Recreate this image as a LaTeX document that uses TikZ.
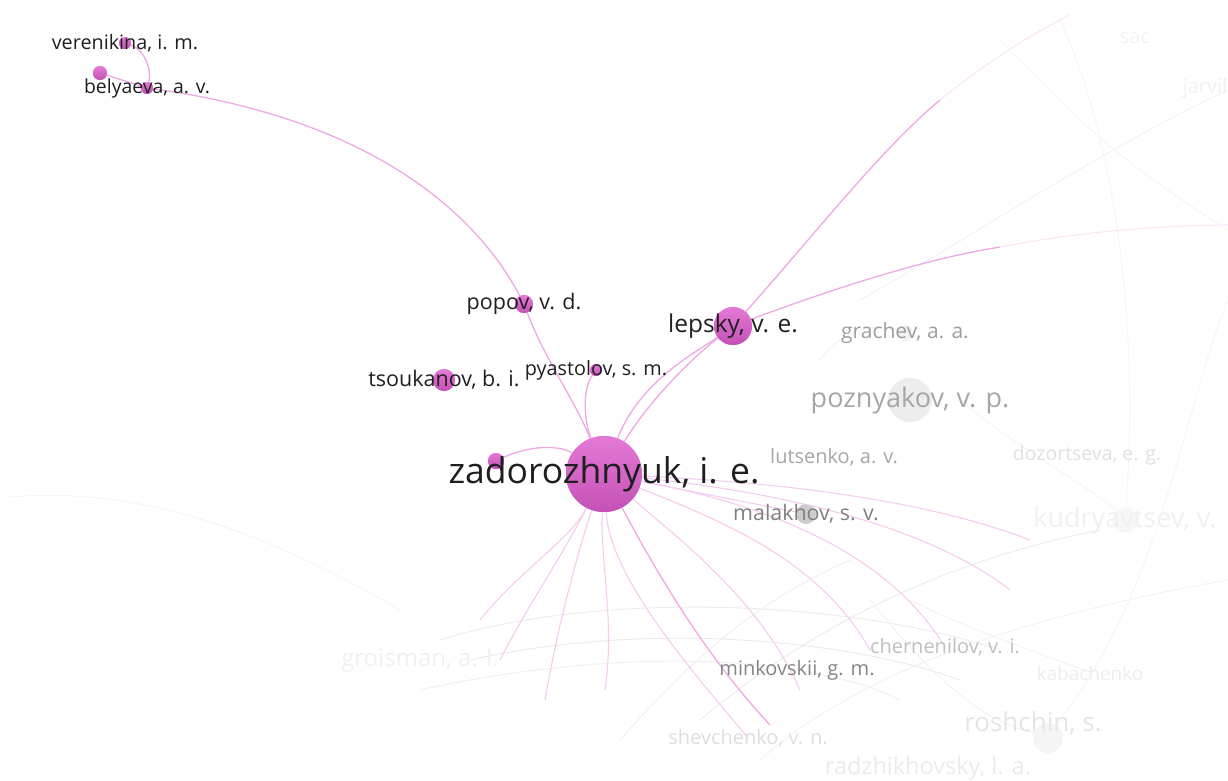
\documentclass[tikz,border=0pt]{standalone}
\usepackage{fontspec}
\setmainfont{Open Sans}
\usetikzlibrary{calc}
\definecolor{vpink}{RGB}{222,92,206}
\definecolor{linkpink}{RGB}{238,168,228}
\newcommand{\fsz}[1]{\fontsize{#1}{#1}\selectfont}

\begin{document}
\begin{tikzpicture}[x=1pt,y=-1pt,
  author/.style={circle, inner sep=0pt, draw=none, top color=vpink!82!white, bottom color=vpink!88!black},
  ghost/.style={circle, inner sep=0pt, fill=black!#1},
  lbl/.style={inner sep=0pt, text=black!88},
  faintlbl/.style={inner sep=0pt, text=black!#1},
  link/.style={draw=linkpink, line width=1.3pt},
  softlink/.style={draw=linkpink!60, line width=1.1pt},
  greylink/.style={draw=black!#1, line width=1pt}
]
\useasboundingbox (0,0) rectangle (1228,781);

% faint background network
\draw[greylink=4] (10,497) .. controls (150,485) and (280,540) .. (400,610);
\draw[greylink=7] (440,640) .. controls (600,590) and (850,600) .. (1000,650);
\draw[greylink=8] (470,660) .. controls (650,620) and (850,640) .. (960,680);
\draw[greylink=6] (420,690) .. controls (600,650) and (800,650) .. (900,700);
\draw[greylink=7] (700,720) .. controls (820,620) and (950,560) .. (1100,530);
\draw[greylink=6] (620,740) .. controls (700,650) and (760,600) .. (850,560);
\draw[greylink=5] (760,760) .. controls (850,680) and (1000,620) .. (1228,580);
\draw[greylink=5] (870,600) .. controls (950,700) and (1000,730) .. (1048,735);
\draw[greylink=4] (960,400) .. controls (1020,450) and (1080,480) .. (1125,517);
\draw[greylink=5] (860,300) .. controls (950,250) and (1100,150) .. (1228,90);
\draw[greylink=4] (1060,20) .. controls (1120,150) and (1140,350) .. (1125,517);
\draw[greylink=4] (1228,300) .. controls (1180,420) and (1160,600) .. (1048,735);
\draw[greylink=4] (1000,40) .. controls (1060,100) and (1100,150) .. (1228,230);
\draw[greylink=5] (820,360) .. controls (840,330) and (880,320) .. (905,333);
\draw[greylink=5] (1090,672) .. controls (1000,640) and (950,620) .. (910,600);

% faint authors
\node[ghost=7, minimum size=44pt] (poznyakov) at (910,400) {};
\node[ghost=5, minimum size=16pt] (grachev) at (905,333) {};
\node[ghost=20, minimum size=20pt] (malakhov) at (806,514) {};
\node[ghost=4, minimum size=30pt] (roshchin) at (1048,738) {};
\node[ghost=3, minimum size=26pt] (kudryav) at (1125,520) {};
\coordinate (minkovskii) at (770,725);
\coordinate (chernenilov) at (945,647);
\coordinate (shevchenko) at (748,738);

% pink links
\coordinate (midne) at (940,100);
\coordinate (farne) at (1070,15);
\coordinate (mideast) at (1000,247);
\coordinate (fareast) at (1228,225);
\node[author, minimum size=76pt] (zad) at (604,474) {};
\node[author, minimum size=38pt] (lepsky) at (733,326) {};
\node[author, minimum size=18pt] (popov) at (524,304) {};
\node[author, minimum size=22pt] (tsoukanov) at (444,380) {};
\node[author, minimum size=12pt] (pyastolov) at (596,370) {};
\node[author, minimum size=16pt] (nodea) at (496,461) {};
\node[author, minimum size=12pt] (verenikina) at (125,43) {};
\node[author, minimum size=12pt] (belyaeva) at (147,88) {};
\node[author, minimum size=14pt] (nodeb) at (100,73) {};

\draw[link] (verenikina) .. controls (145,50) and (152,70) .. (belyaeva);
\draw[link] (nodeb) -- (belyaeva);
\draw[link] (belyaeva) .. controls (380,120) and (480,220) .. (popov);
\draw[link] (popov) .. controls (545,360) and (575,400) .. (zad);
\draw[link] (pyastolov) .. controls (582,390) and (584,420) .. (zad);
\draw[link] (lepsky) .. controls (690,360) and (650,400) .. (zad);
\draw[link] (lepsky) .. controls (700,350) and (640,380) .. (zad);
\draw[link] (lepsky) .. controls (810,240) and (880,150) .. (midne);
\draw[softlink, draw=linkpink!30] (midne) .. controls (990,60) and (1030,35) .. (farne);
\draw[link] (lepsky) .. controls (830,290) and (920,260) .. (mideast);
\draw[softlink, draw=linkpink!30] (mideast) .. controls (1080,232) and (1150,226) .. (fareast);
\draw[link] (nodea) .. controls (530,445) and (560,445) .. (zad);

\draw[softlink] (zad) .. controls (560,560) and (525,610) .. (500,660);
\draw[softlink] (zad) .. controls (575,560) and (555,640) .. (545,700);
\draw[softlink] (zad) .. controls (600,560) and (615,620) .. (605,690);
\draw[link] (zad) .. controls (650,560) and (700,650) .. (minkovskii);
\draw[softlink] (zad) .. controls (680,540) and (760,600) .. (800,690);
\draw[softlink] (zad) .. controls (720,520) and (820,560) .. (870,650);
\draw[softlink] (zad) .. controls (740,500) and (880,540) .. (chernenilov);
\draw[softlink] (zad) .. controls (760,490) and (920,520) .. (1010,590);
\draw[softlink] (zad) .. controls (720,480) and (900,490) .. (1030,540);
\draw[softlink] (zad) -- (malakhov);
\draw[softlink] (zad) .. controls (610,580) and (700,680) .. (shevchenko);
\draw[softlink] (zad) .. controls (570,540) and (520,570) .. (480,620);

% redraw nodes on top
\node[author, minimum size=76pt] at (zad) {};
\node[author, minimum size=38pt] at (lepsky) {};
\node[author, minimum size=18pt] at (popov) {};
\node[author, minimum size=22pt] at (tsoukanov) {};
\node[author, minimum size=12pt] at (pyastolov) {};
\node[author, minimum size=16pt] at (nodea) {};
\node[author, minimum size=12pt] at (verenikina) {};
\node[author, minimum size=12pt] at (belyaeva) {};
\node[author, minimum size=14pt] at (nodeb) {};

% labels
\node[lbl, font=\fsz{35.5}] at (zad) {zadorozhnyuk, i. e.};
\node[lbl, font=\fsz{24.5}] at (lepsky) {lepsky, v. e.};
\node[lbl, font=\fsz{21.5}] at (popov) {popov, v. d.};
\node[lbl, font=\fsz{21.5}] at (tsoukanov) {tsoukanov, b. i.};
\node[lbl, font=\fsz{19.8}] at (pyastolov) {pyastolov, s. m.};
\node[lbl, font=\fsz{19.8}] at (verenikina) {verenikina, i. m.};
\node[lbl, font=\fsz{19.4}] at (belyaeva) {belyaeva, a. v.};

\node[faintlbl=38, font=\fsz{21}] at (grachev) {grachev, a. a.};
\node[faintlbl=35, font=\fsz{27}] at (poznyakov) {poznyakov, v. p.};
\node[faintlbl=35, font=\fsz{20}] at (834,457) {lutsenko, a. v.};
\node[faintlbl=50, font=\fsz{21.4}] at (malakhov) {malakhov, s. v.};
\node[faintlbl=12, font=\fsz{19.5}] at (1087,455) {dozortseva, e. g.};
\node[faintlbl=6, font=\fsz{27}] at (kudryav) {kudryavtsev, v.};
\node[faintlbl=25, font=\fsz{20}] at (chernenilov) {chernenilov, v. i.};
\node[faintlbl=48, font=\fsz{20}] at (797,670) {minkovskii, g. m.};
\node[faintlbl=7, font=\fsz{19}] at (1090,673) {kabachenko};
\node[faintlbl=10, font=\fsz{26}] at (1033,723) {roshchin, s.};
\node[faintlbl=13, font=\fsz{20}] at (shevchenko) {shevchenko, v. n.};
\node[faintlbl=8, font=\fsz{23.5}] at (928,768) {radzhikhovsky, l. a.};
\node[faintlbl=6, font=\fsz{24}] at (420,660) {groisman, a. l.};
\node[faintlbl=5, font=\fsz{20}] at (1135,38) {sac};
\node[faintlbl=6, font=\fsz{20}] at (1205,88) {jarvil};
\end{tikzpicture}
\end{document}
